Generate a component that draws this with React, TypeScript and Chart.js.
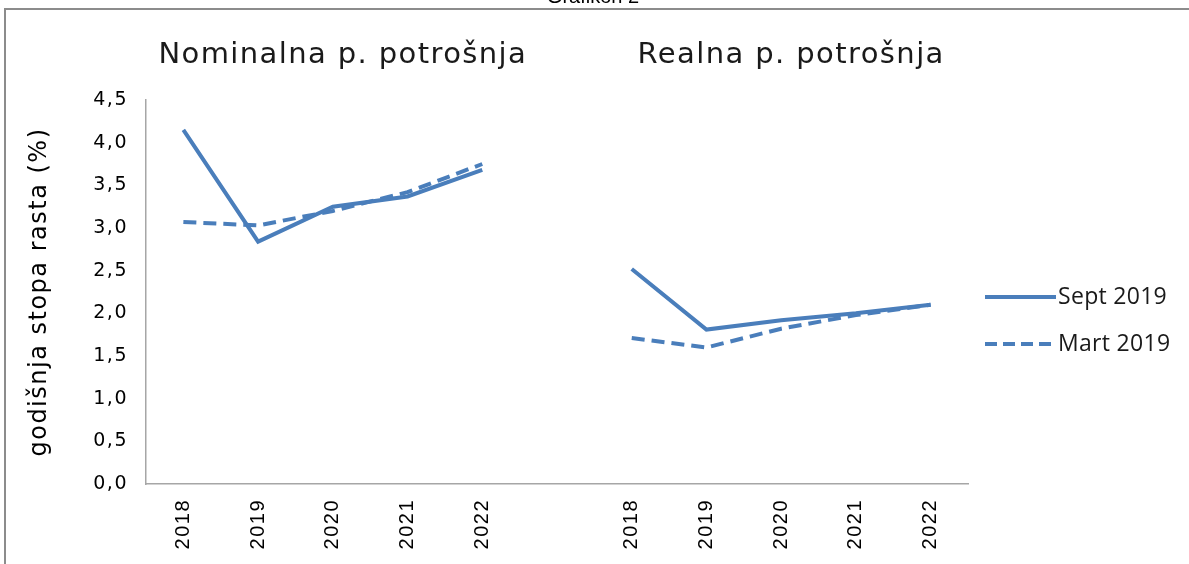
import React, { useEffect, useRef } from "react";
import { Chart, registerables } from "chart.js";

Chart.register(...registerables);

const categories = ["2018", "2019", "2020", "2021", "2022", "", "2018", "2019", "2020", "2021", "2022"];
const sept2019 = [4.15, 2.84, 3.25, 3.37, 3.68, null, 2.52, 1.81, 1.92, 2.0, 2.1];
const mart2019 = [3.07, 3.03, 3.2, 3.42, 3.75, null, 1.71, 1.6, 1.82, 1.98, 2.1];
const seriesNames = ["Sept 2019", "Mart 2019"];
const panelTitles = ["Nominalna p. potrošnja", "Realna p. potrošnja"];
const yTitle = "godišnja stopa rasta (%)";
const figureTitle = "Grafikon 2";

const BLUE = "#4a7ebb";

const spacing = {
  id: "spacing",
  beforeDraw(chart: any) {
    chart.ctx.letterSpacing = "1.5px";
  },
};

const overlay = {
  id: "overlay",
  afterDraw(chart: any) {
    const ctx = chart.ctx;
    const x = chart.scales.x;
    ctx.save();
    // frame
    ctx.strokeStyle = "#8c8c8c";
    ctx.lineWidth = 2;
    ctx.beginPath();
    ctx.moveTo(5, 564);
    ctx.lineTo(5, 9);
    ctx.lineTo(1189, 9);
    ctx.stroke();
    // figure title (cut off at top)
    ctx.letterSpacing = "0px";
    ctx.fillStyle = "#000";
    ctx.font = "20px 'Liberation Sans'";
    ctx.textAlign = "center";
    ctx.textBaseline = "alphabetic";
    ctx.fillText(figureTitle, 593, 3);
    // panel titles
    ctx.letterSpacing = "1.4px";
    ctx.fillStyle = "#1a1a1a";
    ctx.font = "29px 'DejaVu Sans'";
    ctx.textBaseline = "middle";
    const c1 = (x.getPixelForValue(0) + x.getPixelForValue(4)) / 2 + 10;
    const c2 = (x.getPixelForValue(6) + x.getPixelForValue(10)) / 2 + 10;
    ctx.fillText(panelTitles[0], c1, 55);
    ctx.fillText(panelTitles[1], c2, 55);
    // legend
    const ys = [297, 344];
    ctx.strokeStyle = BLUE;
    ctx.lineWidth = 4;
    ctx.lineCap = "butt";
    ys.forEach((y, i) => {
      ctx.setLineDash(i === 0 ? [] : [12, 6]);
      ctx.beginPath();
      ctx.moveTo(985, y);
      ctx.lineTo(1056, y);
      ctx.stroke();
    });
    ctx.setLineDash([]);
    ctx.letterSpacing = "0.3px";
    ctx.fillStyle = "#1a1a1a";
    ctx.font = "23px 'Open Sans'";
    ctx.textAlign = "left";
    ys.forEach((y, i) => ctx.fillText(seriesNames[i], 1058, y));
    ctx.restore();
    ctx.letterSpacing = "0px";
  },
};

export default function App() {
  const ref = useRef<HTMLCanvasElement>(null);
  useEffect(() => {
    document.body.style.margin = "0";
    const chart = new Chart(ref.current!, {
      type: "line",
      data: {
        labels: categories,
        datasets: [
          {
            label: seriesNames[0],
            data: sept2019,
            borderColor: BLUE,
            backgroundColor: BLUE,
            borderWidth: 4,
            pointRadius: 0,
            tension: 0,
            spanGaps: false,
          },
          {
            label: seriesNames[1],
            data: mart2019,
            borderColor: BLUE,
            backgroundColor: BLUE,
            borderWidth: 4,
            borderDash: [13, 7],
            pointRadius: 0,
            tension: 0,
            spanGaps: false,
          },
        ],
      },
      options: {
        responsive: false,
        animation: false,
        layout: { padding: { top: 100, right: 221, left: 0, bottom: 0 } },
        plugins: { legend: { display: false }, tooltip: { enabled: false } },
        scales: {
          x: {
            offset: true,
            grid: { display: false, drawTicks: false },
            border: { display: true, color: "#a6a6a6", width: 1.5 },
            ticks: {
              minRotation: 90,
              maxRotation: 90,
              autoSkip: false,
              padding: 15,
              color: "#000",
              font: { family: "'Liberation Sans'", size: 20 },
            },
            afterFit(scale: any) {
              scale.height = 80;
            },
          },
          y: {
            min: 0,
            max: 4.5,
            grid: { display: false, drawTicks: false },
            border: { display: true, color: "#a6a6a6", width: 1.5 },
            ticks: {
              stepSize: 0.5,
              padding: 18,
              color: "#000",
              font: { family: "'DejaVu Sans'", size: 19 },
              callback: (v: any) => Number(v).toFixed(1).replace(".", ","),
            },
            title: {
              display: true,
              text: yTitle,
              color: "#000",
              font: { family: "'DejaVu Sans'", size: 24 },
              padding: { top: 25, bottom: 0 },
            },
            afterFit(scale: any) {
              scale.width = 146;
            },
          },
        },
      },
      plugins: [spacing, overlay],
    });
    return () => chart.destroy();
  }, []);
  return (
    <div style={{ position: "fixed", left: 0, top: 0, width: 1189, height: 564, background: "#fff" }}>
      <canvas ref={ref} width={1189} height={564} style={{ display: "block" }} />
    </div>
  );
}
